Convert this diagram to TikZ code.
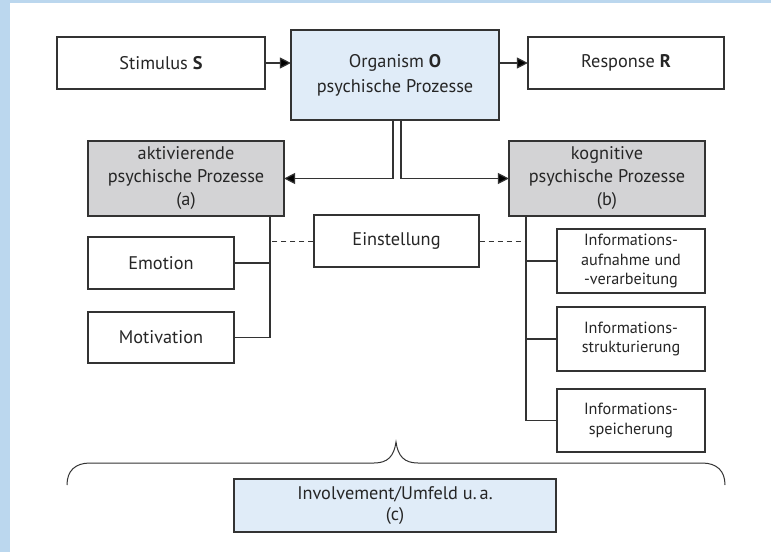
\documentclass[tikz,border=0pt]{standalone}
\usepackage{fontspec}
\setmainfont{PT Sans}
\usetikzlibrary{arrows.meta}

\definecolor{framblue}{HTML}{BBD7EE}
\definecolor{orgblue}{HTML}{E0ECF8}
\definecolor{procgray}{HTML}{D3D3D5}
\definecolor{linegray}{HTML}{333333}

\tikzset{
  box/.style={draw=linegray, line width=1.2pt, fill=white, align=center,
    inner sep=2pt, text=black!85, font=\fontsize{18.3}{25}\selectfont},
  procbox/.style={box, fill=procgray, font=\fontsize{18.3}{23}\selectfont},
  infobox/.style={box, font=\fontsize{16.2}{19.5}\selectfont},
  link/.style={draw=linegray, line width=1.2pt},
  arr/.style={link, -{Triangle[length=11pt,width=11pt,fill=black]}, shorten >=-0.5pt}
}

\begin{document}
\begin{tikzpicture}[x=1pt, y=-1pt]
  % frame
  \useasboundingbox (0,0) rectangle (771,552);
  \fill[white] (0,0) rectangle (771,552);
  \fill[framblue] (0,0) rectangle (10,552);
  \fill[framblue] (0,0) rectangle (771,3);

  % S - O - R
  \node (stim) at (161,63) [box, minimum width=208pt, minimum height=52pt] {Stimulus \textbf{S}};
  \node (org) at (395,75) [box, fill=orgblue, minimum width=208pt, minimum height=90pt] {Organism \textbf{O}\\psychische Prozesse};
  \node (resp) at (626,63) [box, minimum width=196pt, minimum height=52pt] {Response \textbf{R}};
  \draw[arr] (stim.east) -- (stim.east -| org.west);
  \draw[arr] (resp.west -| org.east) -- (resp.west);

  % processes
  \node (akt) at (186,178.5) [procbox, minimum width=196pt, minimum height=75pt] {aktivierende\\psychische Prozesse\\(a)};
  \node (kog) at (607,178.5) [procbox, minimum width=196pt, minimum height=75pt] {kognitive\\psychische Prozesse\\(b)};
  \draw[arr] ([xshift=-2pt]org.south) |- (akt.east);
  \draw[arr] ([xshift=6pt]org.south) |- (kog.west);

  % activating side
  \node (emo) at (161,263) [box, minimum width=146pt, minimum height=52pt] {Emotion};
  \node (mot) at (161,337.5) [box, minimum width=146pt, minimum height=51pt] {Motivation};
  \coordinate (lbus) at ([xshift=84pt]akt.south);
  \draw[link] (lbus) |- (mot.east);
  \draw[link] (emo.east) -- (emo.east -| lbus);

  % cognitive side
  \node (inf1) at (631,261) [infobox, minimum width=148pt, minimum height=64pt] {Informations-\\aufnahme und\\-verarbeitung};
  \node (inf2) at (631,339) [infobox, minimum width=148pt, minimum height=64pt] {Informations-\\strukturierung};
  \node (inf3) at (631,420.5) [infobox, minimum width=148pt, minimum height=63pt] {Informations-\\speicherung};
  \coordinate (rbus) at ([xshift=-81pt]kog.south);
  \draw[link] (rbus) |- (inf3.west);
  \foreach \n in {inf1,inf2}
    \draw[link] (\n.west) -- (\n.west -| rbus);

  % attitude
  \node (einst) at (396.5,241) [box, minimum width=165pt, minimum height=52pt] {Einstellung};
  \draw[link, line width=1pt, dash pattern=on 5pt off 4pt] (einst.west) -- (einst.west -| lbus);
  \draw[link, line width=1pt, dash pattern=on 5pt off 4pt] (einst.east) -- (einst.east -| rbus);

  % brace and context
  \draw[link, line width=1pt] (67,485) .. controls (67,471) and (75,463) .. (90,463) -- (374,463)
    .. controls (388,463) and (394,456) .. (396,442)
    .. controls (398,456) and (404,463) .. (418,463) -- (702,463)
    .. controls (717,463) and (725,471) .. (725,485);
  \node (invol) at (395,505.5) [box, fill=orgblue, minimum width=322pt, minimum height=53pt, font=\fontsize{18.3}{20.5}\selectfont] {Involvement/Umfeld u.\,a.\\(c)};
\end{tikzpicture}
\end{document}
